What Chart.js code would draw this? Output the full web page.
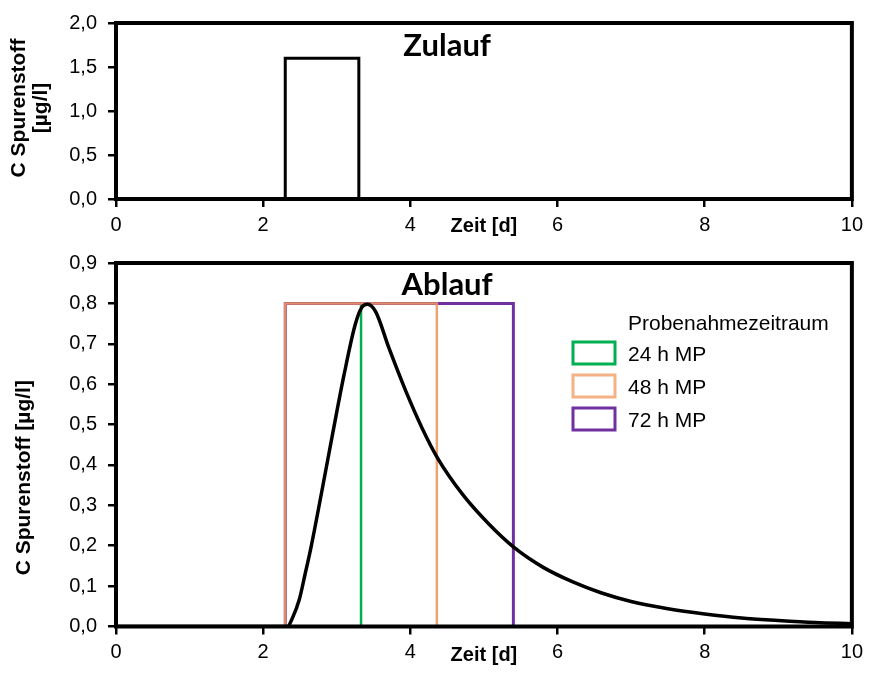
<!DOCTYPE html>
<html><head><meta charset="utf-8">
<script src="https://cdn.jsdelivr.net/npm/chart.js@4.4.1/dist/chart.umd.min.js"></script>
<style>
html,body{margin:0;padding:0;background:#fff;}
#wrap{position:relative;width:869px;height:686px;overflow:hidden;}
#c1{position:absolute;left:0;top:0;}
#c2{position:absolute;left:0;top:240px;}
</style></head><body>
<div id="wrap"><canvas id="c1" width="869" height="240"></canvas><canvas id="c2" width="869" height="446"></canvas></div>
<script>
// ---- data ----
const zulaufX = [0, 2.3, 2.3, 3.3, 3.3, 10];
const zulaufY = [0, 0, 1.6, 1.6, 0, 0];
const ablaufX = [0, 2.3, 2.33, 2.4, 2.49, 2.57, 2.65, 2.79, 2.95, 3.10, 3.25, 3.34, 3.42, 3.53, 3.71, 3.94, 4.16, 4.37, 4.71, 5.07, 5.4, 5.8, 6.2, 6.6, 7.0, 7.5, 8.0, 8.5, 9.0, 9.5, 10];
const ablaufY = [0, 0, 0.0, 0.022, 0.066, 0.13, 0.196, 0.328, 0.483, 0.624, 0.747, 0.79, 0.798, 0.779, 0.689, 0.582, 0.491, 0.417, 0.327, 0.253, 0.197, 0.147, 0.111, 0.083, 0.062, 0.044, 0.031, 0.021, 0.015, 0.010, 0.007];
const probeLabels = ['24 h MP', '48 h MP', '72 h MP'];
const probeStart = 2.3;
const probeEnd = [3.33, 4.36, 5.4];
const probeHeight = 0.8;
const probeColors = ['#00b050', 'rgba(240,150,95,0.9)', '#7030a0'];
const legendColors = ['#00b050', '#f4b183', '#7030a0'];
const probeOrder = [3, 1, 2];
const legendTitle = 'Probenahmezeitraum';
const topTitle = 'Zulauf';
const bottomTitle = 'Ablauf';
const xTitle = 'Zeit [d]';
const yTitleTop = ['C Spurenstoff', '[µg/l]'];
const yTitleBottom = 'C Spurenstoff [µg/l]';

const toPts = (xs, ys) => xs.map((x, i) => ({x: x, y: ys[i]}));
const fmt = v => Number(v).toFixed(1).replace('.', ',');
const tickFont = {family: '"Liberation Sans", Arial, sans-serif', size: 20};
const boldFont = 'bold 20px "Liberation Sans", Arial, sans-serif';
const yTitleFont = 'bold 21px "Liberation Sans", Arial, sans-serif';
const headFont = 'bold 31px Lato, "Open Sans", sans-serif';

function xScaleOpts(h) {
  return {
    type: 'linear', min: 0, max: 10,
    ticks: {stepSize: 2, font: tickFont, color: '#000', padding: 6, maxRotation: 0},
    grid: {drawOnChartArea: false, drawTicks: true, tickLength: 8, color: '#000', lineWidth: 2.5},
    border: {display: false},
    afterFit: a => { a.height = h; }
  };
}
function yScaleOpts(max, step) {
  return {
    type: 'linear', min: 0, max: max,
    ticks: {stepSize: step, font: tickFont, color: '#000', padding: 11, callback: fmt},
    grid: {drawOnChartArea: false, drawTicks: true, tickLength: 8, color: '#000', lineWidth: 2.5},
    border: {display: false},
    afterFit: a => { a.width = 116; }
  };
}

const framePlugin = {
  id: 'frame',
  afterDatasetsDraw(chart) {
    const {ctx, chartArea: a} = chart;
    ctx.save();
    ctx.strokeStyle = '#000';
    ctx.lineWidth = 4;
    ctx.strokeRect(a.left, a.top, a.right - a.left, a.bottom - a.top);
    ctx.restore();
  }
};

const textPlugin = {
  id: 'texts',
  afterDraw(chart, args, o) {
    const {ctx, chartArea: a} = chart;
    const xs = chart.scales.x;
    ctx.save();
    ctx.fillStyle = '#000';
    ctx.font = headFont;
    ctx.textAlign = 'center';
    ctx.textBaseline = 'alphabetic';
    ctx.fillText(o.title, xs.getPixelForValue(4.5), a.top + o.titleDy);
    ctx.font = boldFont;
    ctx.fillText(xTitle, xs.getPixelForValue(5), a.bottom + o.xTitleDy);
    ctx.translate(0, (a.top + a.bottom) / 2 + o.yTitleShift);
    ctx.rotate(-Math.PI / 2);
    ctx.font = yTitleFont;
    ctx.textBaseline = 'middle';
    const lines = Array.isArray(o.yTitle) ? o.yTitle : [o.yTitle];
    lines.forEach((t, i) => ctx.fillText(t, 0, o.yTitleX + i * 22));
    ctx.restore();
    if (o.legend) {
      ctx.save();
      ctx.font = '21px "Liberation Sans", Arial, sans-serif';
      ctx.fillStyle = '#000';
      ctx.textAlign = 'left';
      ctx.textBaseline = 'alphabetic';
      const lx = 573, tx = 628, cy0 = a.top + 90;
      ctx.fillText(legendTitle, tx, cy0 - 23);
      probeLabels.forEach((lab, i) => {
        const cy = cy0 + i * 33;
        ctx.strokeStyle = legendColors[i];
        ctx.lineWidth = 3;
        ctx.strokeRect(lx, cy - 11, 42, 22);
        ctx.fillText(lab, tx, cy + 8);
      });
      ctx.restore();
    }
  }
};

new Chart(document.getElementById('c1'), {
  type: 'scatter',
  data: {datasets: [{
    data: toPts(zulaufX, zulaufY), showLine: true, borderColor: '#000', borderWidth: 3,
    pointRadius: 0, tension: 0, fill: false
  }]},
  options: {
    responsive: false, animation: false, devicePixelRatio: 1,
    layout: {padding: {top: 22.5, right: 15, left: 0, bottom: 0}},
    plugins: {legend: {display: false}, tooltip: {enabled: false},
      texts: {title: topTitle, titleDy: 33, xTitleDy: 33, yTitle: yTitleTop, yTitleX: 19.5, yTitleShift: -3}},
    scales: {x: xScaleOpts(41), y: yScaleOpts(2, 0.5)}
  },
  plugins: [framePlugin, textPlugin]
});

const boxSets = probeEnd.map((e, i) => ({
  data: toPts([probeStart, probeStart, e, e, probeStart], [0, probeHeight, probeHeight, 0, 0]),
  showLine: true, borderColor: probeColors[i], borderWidth: i === 2 ? 3 : 2.5,
  pointRadius: 0, tension: 0, fill: false, order: probeOrder[i], label: probeLabels[i]
}));

new Chart(document.getElementById('c2'), {
  type: 'scatter',
  data: {datasets: [{
    data: toPts(ablaufX, ablaufY), showLine: true, borderColor: '#000', borderWidth: 3.5,
    pointRadius: 0, cubicInterpolationMode: 'monotone', fill: false, order: 0
  }].concat(boxSets)},
  options: {
    responsive: false, animation: false, devicePixelRatio: 1,
    layout: {padding: {top: 21, right: 15, left: 0, bottom: 0}},
    plugins: {legend: {display: false}, tooltip: {enabled: false},
      texts: {title: bottomTitle, titleDy: 32, xTitleDy: 34, yTitle: yTitleBottom, yTitleX: 24.5, yTitleShift: 33, legend: true}},
    scales: {x: xScaleOpts(59.5), y: yScaleOpts(0.9, 0.1)}
  },
  plugins: [framePlugin, textPlugin]
});
</script>
</body></html>
